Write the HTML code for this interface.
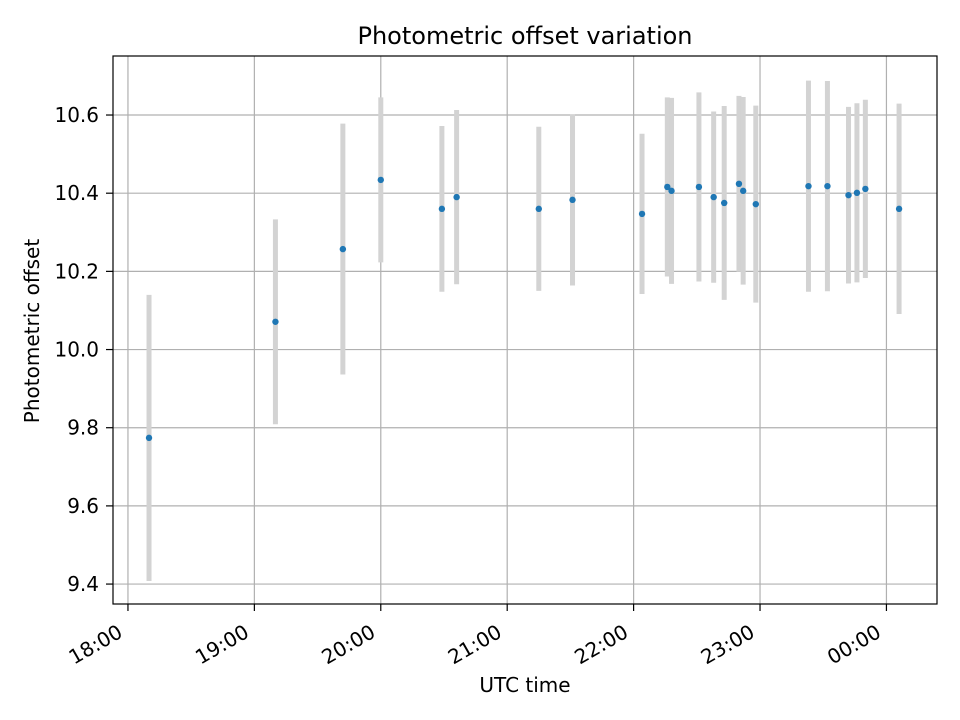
<!DOCTYPE html>
<html><head><meta charset="utf-8"><style>
body{margin:0;background:#fff;}
svg{display:block;font-family:"DejaVu Sans","Liberation Sans",sans-serif;}
</style></head><body>
<svg id="chart" width="960" height="720" viewBox="0 0 960 720">
<rect x="0" y="0" width="960" height="720" fill="#fff"/>
<text x="525" y="44" font-size="24" text-anchor="middle">Photometric offset variation</text>
<g id="grid"></g>
<g id="errs"></g>
<g id="pts"></g>
<rect x="113" y="56" width="824" height="548" fill="none" stroke="#000" stroke-width="1.2"/>
<g id="axes"></g>
<text x="525" y="692" font-size="20" text-anchor="middle">UTC time</text>
<text transform="translate(39,331) rotate(-90)" font-size="20" text-anchor="middle">Photometric offset</text>
</svg>
<script>
// minutes since 18:00 UTC
const times=[10,70,102,120,149,156,195,211,244,256,258,271,278,283,290,292,298,323,332,342,346,350,366];
const offsets=[9.774,10.071,10.257,10.434,10.360,10.390,10.360,10.383,10.347,10.416,10.406,10.416,10.390,10.375,10.424,10.406,10.372,10.418,10.418,10.395,10.401,10.411,10.360];
const errors=[0.366,0.262,0.321,0.211,0.212,0.223,0.21,0.219,0.205,0.229,0.238,0.242,0.219,0.248,0.225,0.240,0.252,0.27,0.269,0.226,0.229,0.228,0.269];
const xTickMinutes=[0,60,120,180,240,300,360];
const xTickLabels=["18:00","19:00","20:00","21:00","22:00","23:00","00:00"];
const yTicks=[9.4,9.6,9.8,10.0,10.2,10.4,10.6];
const yTickLabels=["9.4","9.6","9.8","10.0","10.2","10.4","10.6"];

const X0=113,X1=937,Y0=56,Y1=604;
const xMin=-7.1,xMax=384,yMin=9.349,yMax=10.751;
const sx=v=>X0+(v-xMin)/(xMax-xMin)*(X1-X0);
const sy=v=>Y1-(v-yMin)/(yMax-yMin)*(Y1-Y0);
const NS="http://www.w3.org/2000/svg";
function mk(tag,attrs,parent,text){const e=document.createElementNS(NS,tag);for(const k in attrs)e.setAttribute(k,attrs[k]);if(text!==undefined)e.textContent=text;parent.appendChild(e);return e;}
const grid=document.getElementById('grid'),axes=document.getElementById('axes'),errs=document.getElementById('errs'),pts=document.getElementById('pts');
xTickMinutes.forEach((m,i)=>{
  const x=sx(m);
  const g=mk('line',{x1:x,x2:x,y1:Y0,y2:Y1,stroke:'#b0b0b0','stroke-width':1.2},grid);
  
  
  const t=mk('line',{x1:x,x2:x,y1:Y1,y2:Y1+7,stroke:'#000','stroke-width':1.2},axes);
  
  
  const ax=x-4,ay=Y1+32;
  const l=mk('text',{x:ax,y:ay,'font-size':20,'text-anchor':'end',transform:`rotate(-30 ${ax} ${ay})`},axes,xTickLabels[i]);
  
  
});
yTicks.forEach((v,i)=>{
  const y=sy(v);
  const g=mk('line',{x1:X0,x2:X1,y1:y,y2:y,stroke:'#b0b0b0','stroke-width':1.2},grid);
  
  
  const t=mk('line',{x1:X0-7,x2:X0,y1:y,y2:y,stroke:'#000','stroke-width':1.2},axes);
  
  
  const l=mk('text',{x:X0-14,y:y+7,'font-size':20,'text-anchor':'end'},axes,yTickLabels[i]);
  
  
});
times.forEach((m,i)=>{
  const x=sx(m);
  const e=mk('line',{x1:x,x2:x,y1:sy(offsets[i]+errors[i]),y2:sy(offsets[i]-errors[i]),stroke:'#d3d3d3','stroke-width':5},errs);
  
  
  const c=mk('circle',{cx:x,cy:sy(offsets[i]),r:3.2,fill:'#1f77b4'},pts);
  
  
});
</script>
</body></html>
